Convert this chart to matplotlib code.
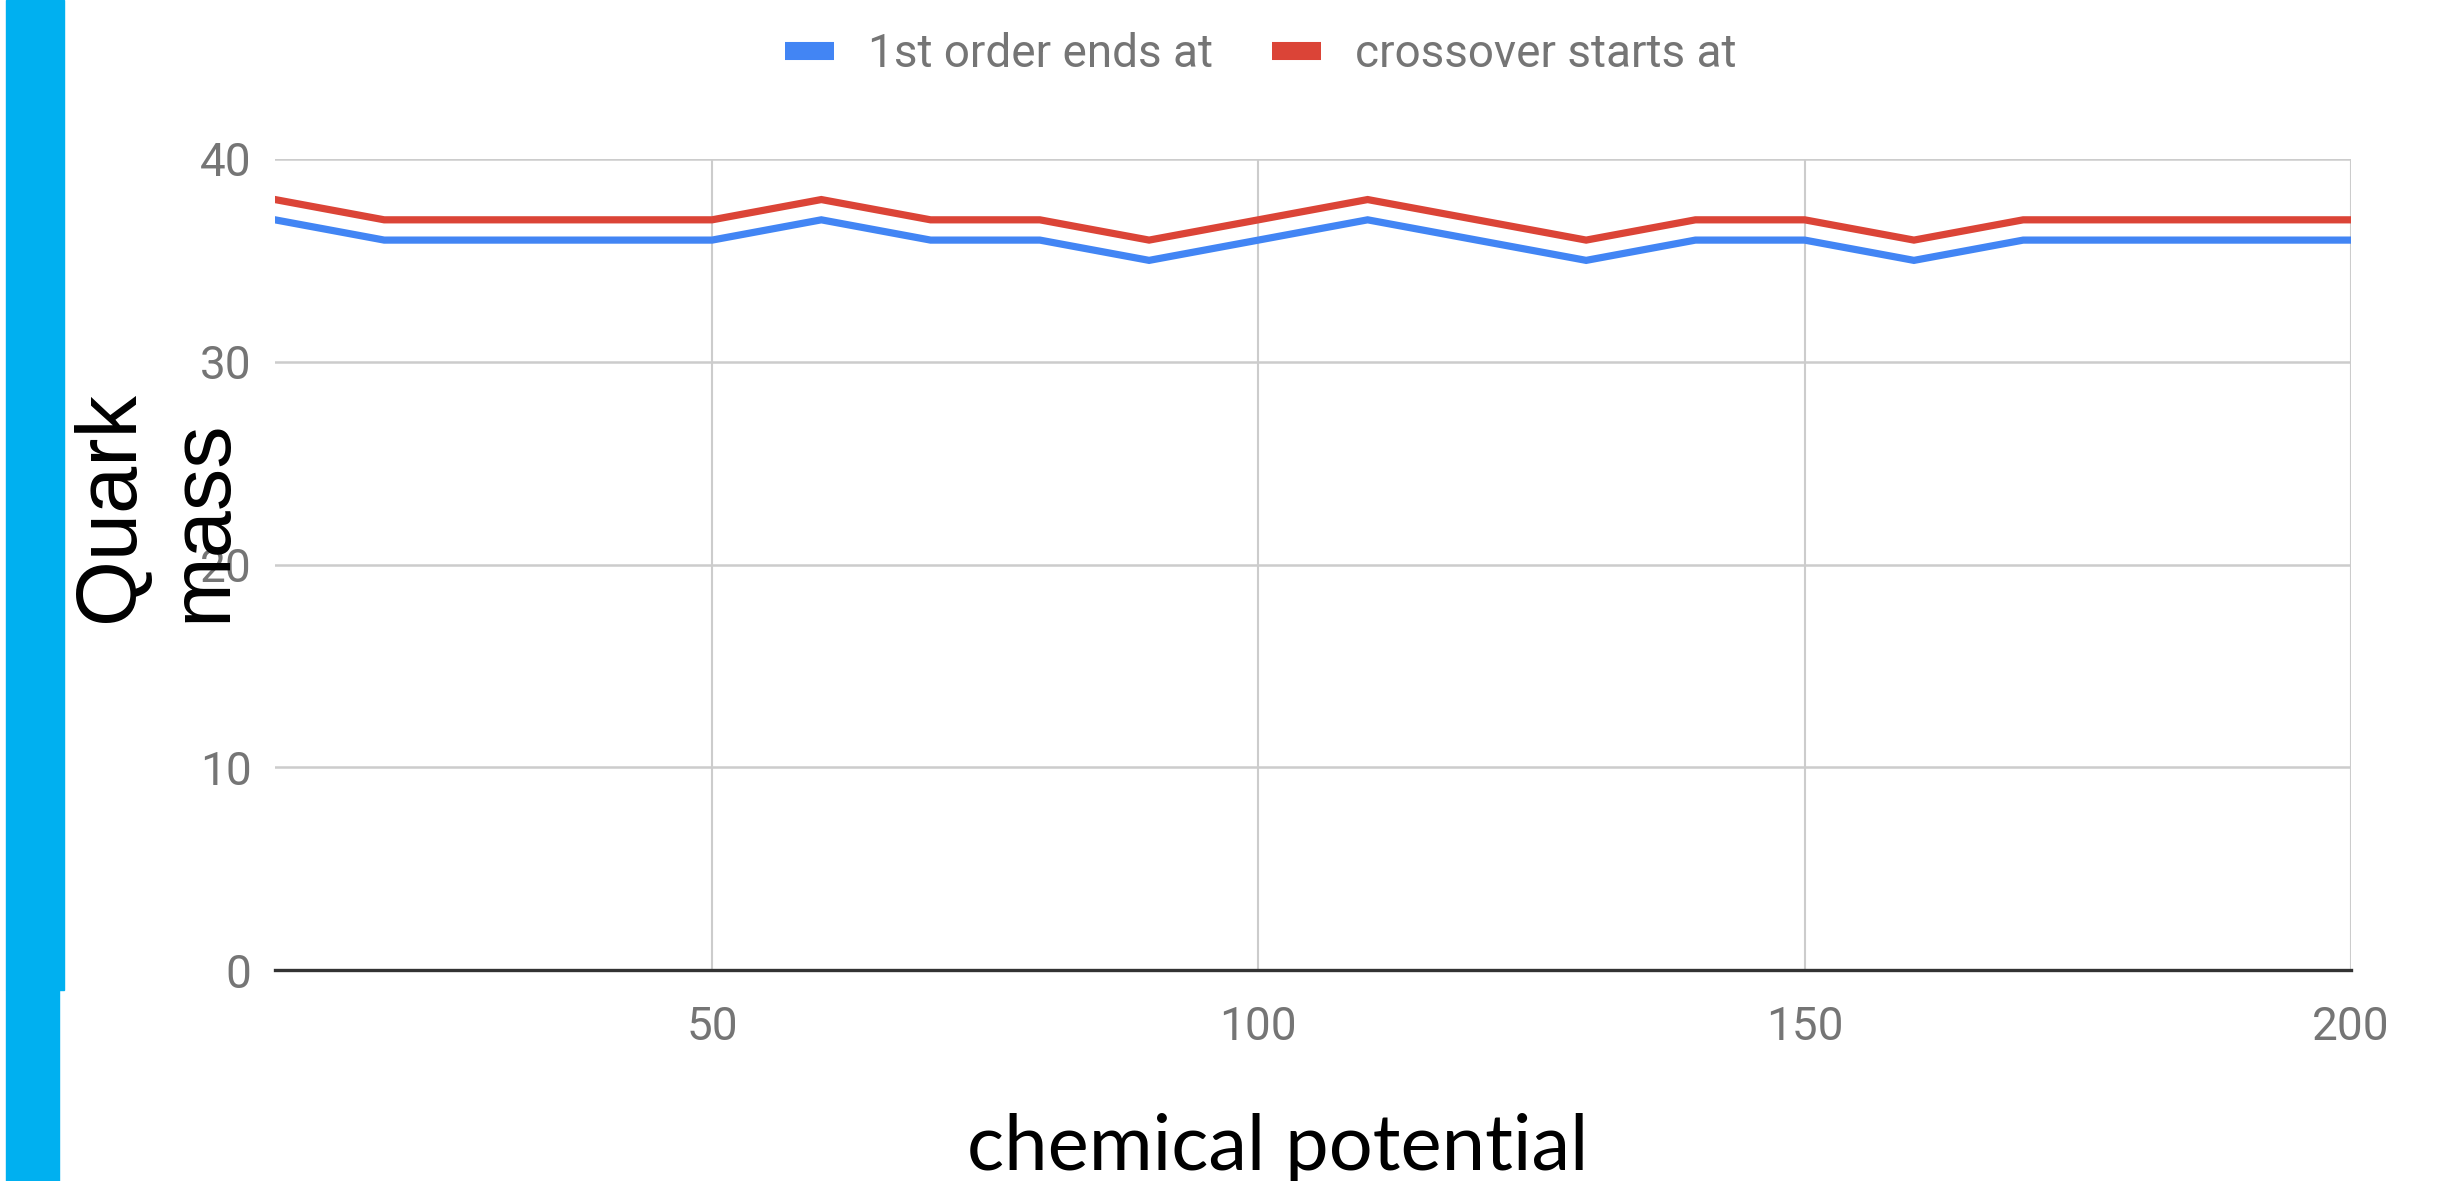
import matplotlib
matplotlib.use("Agg")
import matplotlib.pyplot as plt
from matplotlib.lines import Line2D
from matplotlib.patches import Rectangle

# chemical potential samples
mu = [10, 20, 30, 40, 50, 60, 70, 80, 90, 100,
      110, 120, 130, 140, 150, 160, 170, 180, 190, 200]
# quark mass where the first order region ends
first_order_end = [37, 36, 36, 36, 36, 37, 36, 36, 35, 36,
                   37, 36, 35, 36, 36, 35, 36, 36, 36, 36]
# quark mass where the crossover begins
crossover_start = [38, 37, 37, 37, 37, 38, 37, 37, 36, 37,
                   38, 37, 36, 37, 37, 36, 37, 37, 37, 37]

series_names = ["1st order ends at", "crossover starts at"]
series_colors = ["#4285F4", "#DB4437"]
x_ticks = [50, 100, 150, 200]
y_ticks = [0, 10, 20, 30, 40]

W, H = 2464, 1181
fig = plt.figure(figsize=(W / 100, H / 100), dpi=100)
fig.patch.set_facecolor("white")

# cyan accent bar on the slide edge
fig.patches.append(Rectangle((6 / W, 1 - 990 / H), 58 / W, 990 / H,
                             transform=fig.transFigure, color="#00B0F0", zorder=0))
fig.patches.append(Rectangle((6 / W, 0), 53 / W, 1 - 990 / H,
                             transform=fig.transFigure, color="#00B0F0", zorder=0))

ax = fig.add_axes([275 / W, 1 - 970 / H, (2351 - 275) / W, (970 - 159) / H])
ax.set_xlim(10, 200)
ax.set_ylim(0, 40)
for s in ax.spines.values():
    s.set_visible(False)

for yt in y_ticks[1:]:
    ax.axhline(yt, color="#cccccc", lw=1.8, zorder=1)
for xt in x_ticks:
    ax.axvline(xt, color="#cccccc", lw=1.5, zorder=1)
ax.axhline(0, color="#333333", lw=2.4, zorder=3, clip_on=False)

for vals, col in zip([first_order_end, crossover_start], series_colors):
    ax.plot(mu, vals, color=col, lw=5.2, zorder=4, solid_joinstyle="miter")

tick_font = dict(family="Roboto", size=33, color="#757575")
ax.set_xticks(x_ticks)
ax.set_yticks(y_ticks)
ax.set_xticklabels([str(t) for t in x_ticks], **tick_font)
ax.set_yticklabels([str(t) for t in y_ticks], **tick_font)
ax.tick_params(axis="both", length=0)
ax.tick_params(axis="x", pad=25)
ax.tick_params(axis="y", pad=17)

handles = [Line2D([], [], color=c, lw=13, solid_capstyle="butt") for c in series_colors]
leg = fig.legend(handles, series_names, loc="center", ncol=2,
                 bbox_to_anchor=(1261 / W, 1 - 54 / H), frameon=False,
                 prop=dict(family="Roboto", size=33),
                 handlelength=1.07, handletextpad=0.74, columnspacing=1.29,
                 borderaxespad=0, borderpad=0)
for t in leg.get_texts():
    t.set_color("#757575")

fig.text(157 / W, 1 - 622 / H, "Quark\nmass", rotation=90, ha="center", va="bottom",
         multialignment="left", family="Liberation Sans", size=61, color="black",
         zorder=10)
fig.text(1278 / W, 1 - 1170 / H, "chemical potential", ha="center", va="baseline",
         family="Lato", size=56, color="black")

fig.savefig("out.png", dpi=100, facecolor="white")
